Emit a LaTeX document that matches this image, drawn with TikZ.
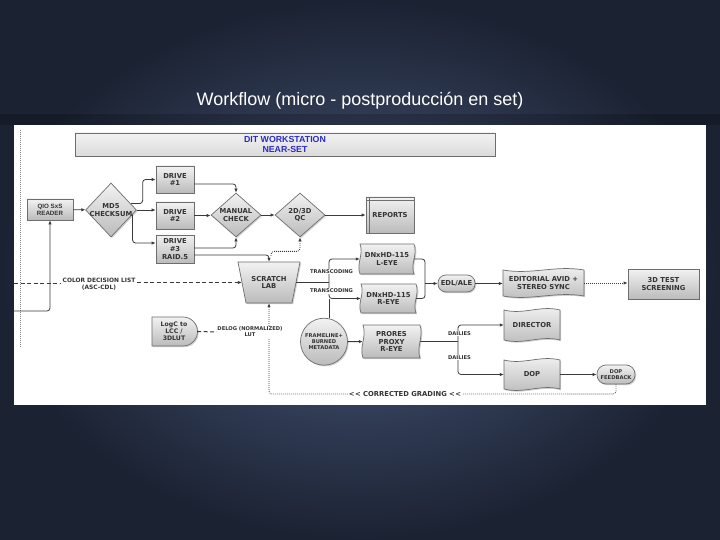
\documentclass[tikz,border=0pt]{standalone}
\usepackage{fontspec}
\setmainfont{Liberation Sans}
\newfontfamily\dv{DejaVu Sans}
\usetikzlibrary{shapes.geometric,shapes.misc,arrows.meta,shadows,calc}
\definecolor{bgin}{HTML}{4A5A7E}
\definecolor{bgout}{HTML}{1B2232}
\definecolor{shtop}{HTML}{F2F2F2}
\definecolor{shbot}{HTML}{BBBBBB}
\definecolor{edgec}{HTML}{6E6E6E}
\definecolor{lnc}{HTML}{3A3A3A}
\definecolor{ditblue}{HTML}{2B2BC8}
\tikzset{
 shp/.style={draw=edgec, line width=0.7pt, top color=shtop, bottom color=shbot,
   drop shadow={shadow xshift=1.2pt, shadow yshift=-1.2pt, opacity=0.35}},
 lbl/.style={font=\dv\bfseries\fontsize{6.8}{7.7}\selectfont, text=black!80, align=center},
 smalllbl/.style={font=\dv\bfseries\fontsize{5.2}{6}\selectfont, text=black!80, align=center},
 conn/.style={draw=lnc, line width=0.8pt, rounded corners=3pt},
 arr/.style={-{Latex[length=4pt,width=3.4pt]}},
 dsh/.style={dash pattern=on 4pt off 2.5pt, line width=1pt},
 dotline/.style={dash pattern=on 0.8pt off 1.2pt, line width=0.8pt},
 boxn/.style={shp, lbl, rectangle, inner sep=0pt},
}
\newcommand{\hwave}[6]{%
 \path[shp] (#2,#3) .. controls ({#2+0.35*(#4-#2)},{#3+5}) and ({#2+0.65*(#4-#2)},{#3-5}) .. (#4,#3) -- (#4,#5) .. controls ({#2+0.65*(#4-#2)},{#5-5}) and ({#2+0.35*(#4-#2)},{#5+5}) .. (#2,#5) -- cycle;
 \node[lbl, minimum width={(#4-#2)*1pt}, minimum height={(#5-#3)*1pt}, inner sep=0pt] (#1) at ({(#2+#4)/2},{(#3+#5)/2}) {#6};}
\newcommand{\vwave}[6]{%
 \path[shp] (#2,#3) -- (#4,#3) .. controls ({#4+4},{#3+0.35*(#5-#3)}) and ({#4-4},{#3+0.65*(#5-#3)}) .. (#4,#5) -- (#2,#5) .. controls ({#2-4},{#3+0.65*(#5-#3)}) and ({#2+4},{#3+0.35*(#5-#3)}) .. (#2,#3) -- cycle;
 \node[lbl, minimum width={(#4-#2)*1pt}, minimum height={(#5-#3)*1pt}, inner sep=0pt] (#1) at ({(#2+#4)/2},{(#3+#5)/2}) {#6};}
\begin{document}
\begin{tikzpicture}[x=1pt,y=-1pt]
\useasboundingbox (0,0) rectangle (720,540);
\shade[inner color=bgin, outer color=bgout] (0,0) rectangle (720,540);
\fill[black, opacity=0.18] (0,114) rectangle (720,125);
\fill[white] (14,125) rectangle (706,405);
\node[text=white, font=\fontsize{18}{20}\selectfont] (title) at (360,101) {Workflow (micro - postproducción en set)};

% header
\node[shp, bottom color=gray!28, minimum width=420pt, minimum height=23pt, inner sep=0pt,
  font=\bfseries\fontsize{8.8}{9.8}\selectfont, text=ditblue, align=center] (header) at (285,144.5) {DIT WORKSTATION\\NEAR-SET};

% left dotted guide
\coordinate (vtop) at (20,130);
\coordinate (vbot) at (20,348);
\draw[dotline, draw=gray] (vtop) -- (vbot);

% nodes
\node[boxn, font=\bfseries\fontsize{6.2}{7}\selectfont, minimum width=46pt, minimum height=21pt] (reader) at (50,209.5) {QIO SxS\\READER};
\node[shp, diamond, minimum width=51pt, minimum height=54pt, inner sep=0pt] (md5) at (111,210) {};
\node[lbl] (md5t) at (md5) {MD5\\CHECKSUM};
\node[boxn, minimum width=38pt, minimum height=27pt] (drive1) at (175,179.5) {DRIVE\\\#1};
\node[boxn, minimum width=38pt, minimum height=27pt] (drive2) at (175,215.5) {DRIVE\\\#2};
\node[boxn, minimum width=38pt, minimum height=28pt] (drive3) at (175,249) {DRIVE\\\#3\\RAID.5};
\node[shp, diamond, minimum width=50pt, minimum height=44pt, inner sep=0pt] (manual) at (236,215) {};
\node[lbl] (manualt) at (manual) {MANUAL\\CHECK};
\node[shp, diamond, minimum width=50pt, minimum height=44pt, inner sep=0pt] (qc) at (300,215) {};
\node[lbl] (qct) at (qc) {2D/3D\\QC};
\node[boxn, minimum width=48pt, minimum height=36pt] (reports) at (390,215) {REPORTS};
\draw[edgec, line width=0.7pt] ([xshift=3.5pt]reports.north west) -- ([xshift=3.5pt]reports.south west);
\draw[edgec, line width=0.7pt] ([yshift=-3.5pt]reports.north west) -- ([yshift=-3.5pt]reports.north east);

% scratch lab
\path[shp] (238,262) -- (300,262) -- (292,303) -- (246,303) -- cycle;
\node[lbl, minimum width=54pt, minimum height=41pt, inner sep=0pt] (scratch) at (269,282.5) {SCRATCH\\LAB};

% LogC
\path[shp] (152,317) -- (183,317) arc[start angle=-90, end angle=90, radius=14.5] -- (152,346) -- cycle;
\node[lbl, font=\dv\bfseries\fontsize{6.2}{7.2}\selectfont, minimum width=46pt, minimum height=29pt, inner sep=0pt] (logc) at (174,331.5) {LogC to\\LCC /\\3DLUT};

\node[shp, circle, minimum size=47pt, inner sep=0pt, smalllbl] (frame) at (324,341.7) {FRAMELINE+\\BURNED\\METADATA};

\vwave{leye}{360}{244}{414}{274}{DNxHD-115\\L-EYE}
\vwave{reye}{361}{284}{416}{313}{DNxHD-115\\R-EYE}
\vwave{prores}{363}{325}{420}{358}{PRORES\\PROXY\\R-EYE}

\node[shp, lbl, rectangle, rounded corners=8pt, minimum width=37pt, minimum height=17pt, inner sep=0pt] (edl) at (456.5,283.5) {EDL/ALE};
\hwave{editorial}{503}{270}{584}{296}{EDITORIAL AVID +\\STEREO SYNC}
\node[boxn, minimum width=71pt, minimum height=30pt] (test) at (663.5,284) {3D TEST\\SCREENING};
\hwave{director}{504}{310}{560}{340}{DIRECTOR}
\hwave{dop}{504}{360}{560}{389}{DOP}
\node[shp, smalllbl, rectangle, rounded corners=9pt, minimum width=38pt, minimum height=19pt, inner sep=0pt] (dopfb) at (616,374.5) {DOP\\FEEDBACK};

% connectors
\coordinate (rd0) at (14,311);
\draw[conn, arr] (rd0) -| (reader.south);
\draw[conn, arr] (reader) -- (md5);
\draw[conn, arr] (md5.east) -- (md5.east -| drive2.west);
\draw[conn, arr] (md5.18) -| ([xshift=-13pt]drive1.west) -- (drive1.west);
\draw[conn, arr] (md5.-12) |- ([yshift=6pt]drive3.west);
\draw[conn, arr] ([yshift=-4.5pt]drive1.east) -| (manual.north);
\draw[conn, arr] (drive2.east) -- (drive2.east -| manual.west);
\draw[conn, arr] ([yshift=1pt]drive3.east) -| (manual.south);
\draw[conn, arr] ([yshift=-6pt]drive3.east) -| (scratch.north);
\draw[conn, arr] (manual) -- (qc);
\draw[conn, arr] (qc) -- (reports);
\draw[conn, dotline, arr] ([xshift=2pt,yshift=6pt]scratch.north) |- ([yshift=-14pt]qc.south) -- (qc.south);

\coordinate (bus) at (329,282.5);
\draw[conn] (scratch.east) -- (bus);
\draw[conn, arr] (bus) |- (leye.west);
\draw[conn, arr] (bus) |- (reye.west);
\draw[conn] (frame.78) -- (frame.78 |- reye.west);
\node[smalllbl, fill=white, inner sep=0.8pt] (tc1) at (331.5,271.5) {TRANSCODING};
\node[smalllbl, fill=white, inner sep=0.8pt] (tc2) at (331.5,291) {TRANSCODING};

\coordinate (join) at (425,283.5);
\draw[conn] (leye.east) -| (join);
\draw[conn] (reye.east) -| (join);
\draw[conn, arr] (join) -- (edl.west);
\draw[conn, arr] (edl.east) -- (edl.east -| editorial.west);
\draw[conn, dotline, arr] (editorial.east) -- (editorial.east -| test.west);

\draw[conn, arr] (frame) -- (prores);
\coordinate (split) at (458,341.5);
\draw[conn] (prores.east) -- (split);
\draw[conn, arr] (split) |- (director.west);
\draw[conn, arr] (split) |- (dop.west);
\node[smalllbl, fill=white, inner sep=0.8pt] (d1) at (459.5,333.3) {DAILIES};
\node[smalllbl, fill=white, inner sep=0.8pt] (d2) at (459.5,357.5) {DAILIES};
\draw[conn, arr] (dop) -- (dopfb);

\coordinate (cg) at (269,394);
\draw[conn, dotline, arr] (dopfb.south) |- (cg) -- (scratch.south);
\node[lbl, fill=white, inner sep=1pt] (cgl) at (405,394.5) {<\kern0.4pt< CORRECTED GRADING <\kern0.4pt<};

\node[smalllbl, fill=white, inner sep=0.5pt] (delog) at (250,332) {DELOG (NORMALIZED)\\LUT};
\draw[conn, dsh] (logc.east) -- (delog.west);

\coordinate (cdl0) at (14,283);
\node[lbl, font=\dv\bfseries\fontsize{5.9}{6.9}\selectfont, fill=white, inner sep=1.5pt] (cdl) at (99,284) {COLOR DECISION LIST\\(ASC-CDL)};
\draw[conn, dsh] (cdl0) -- (cdl0 -| cdl.west);
\draw[conn, dsh, arr] (cdl.east |- scratch.west) -- (scratch.west);
\end{tikzpicture}
\end{document}
